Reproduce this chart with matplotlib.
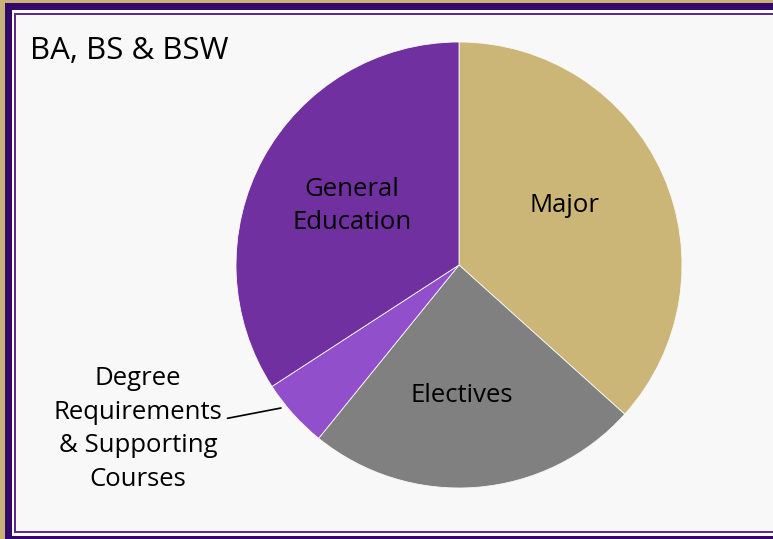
import matplotlib
matplotlib.use("Agg")
import matplotlib.pyplot as plt
from matplotlib.patches import Rectangle

categories = ["Major", "Electives", "Degree Requirements\n& Supporting\nCourses", "General\nEducation"]
credits = [44, 29, 6, 41]
colors = ["#CBB677", "#808080", "#914FCC", "#7030A0"]
title = "BA, BS & BSW"

W, H = 773, 539
fig = plt.figure(figsize=(W / 100, H / 100), dpi=100)
fig.patch.set_facecolor("#C9B37A")
plt.rcParams["font.family"] = ["Open Sans", "DejaVu Sans"]

def px_rect(x0, y0, x1, y1, **kw):
    fig.patches.append(Rectangle((x0 / W, 1 - y1 / H), (x1 - x0) / W, (y1 - y0) / H,
                                 transform=fig.transFigure, zorder=-10, **kw))

px_rect(5, 3, W + 10, H + 10, facecolor="#33086A", edgecolor="none")
px_rect(12, 10, W + 10, 536, facecolor="#FFFFFF", edgecolor="none")
px_rect(14, 13, W + 10, 533, facecolor="#5C2A91", edgecolor="none")
px_rect(16, 15, W + 10, 531, facecolor="#F8F8F8", edgecolor="none")

cx, cy, r = 459, 265, 223
ax = fig.add_axes([(cx - r) / W, 1 - (cy + r) / H, 2 * r / W, 2 * r / H])
ax.set_zorder(5)
ax.patch.set_visible(False)
wedges, _ = ax.pie(credits, colors=colors, startangle=90, counterclock=False, radius=1,
                   wedgeprops=dict(edgecolor="#F8F8F8", linewidth=0.6))
ax.set_xlim(-1, 1)
ax.set_ylim(-1, 1)
ax.set_aspect("equal")
ax.axis("off")

def to_ax(px, py):
    return ((px - cx) / r, (cy - py) / r)

fs = 18.5
ls = 1.45
ax.text(*to_ax(565, 205), categories[0], ha="center", va="center", fontsize=fs, color="black")
ax.text(*to_ax(462, 396), categories[1], ha="center", va="center", fontsize=fs, color="black")
ax.text(*to_ax(352, 206), categories[3], ha="center", va="center", fontsize=fs, color="black",
        linespacing=ls)
ax.annotate("Degree\nRequirements\n& Supporting\nCourses", xy=to_ax(281, 408), xytext=to_ax(138, 429),
            ha="center", va="center", fontsize=fs, color="black", linespacing=ls,
            annotation_clip=False,
            arrowprops=dict(arrowstyle="-", color="black", lw=1.2, shrinkA=0, shrinkB=0,
                            relpos=(1.03, 0.585)))

fig.text(30 / W, 1 - 51 / H, title, ha="left", va="center", fontsize=22.5, color="black")

fig.savefig("out.png", dpi=100, facecolor=fig.get_facecolor())
